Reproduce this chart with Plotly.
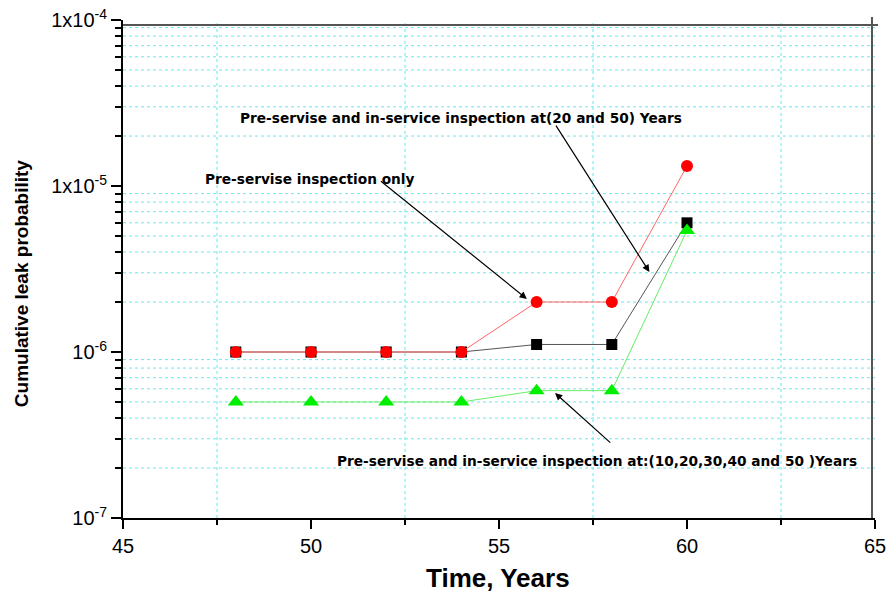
import plotly.graph_objects as go
import numpy as np

# ---- data ----
time_years = [48, 50, 52, 54, 56, 58, 60]
pre_service_only = [1.0e-6, 1.0e-6, 1.0e-6, 1.0e-6, 2.0e-6, 2.0e-6, 1.32e-5]
inspect_20_50 = [1.0e-6, 1.0e-6, 1.0e-6, 1.0e-6, 1.11e-6, 1.11e-6, 6.0e-6]
inspect_10_50 = [5.0e-7, 5.0e-7, 5.0e-7, 5.0e-7, 5.85e-7, 5.85e-7, 5.4e-6]

x_ticks = [45, 50, 55, 60, 65]
x_minor = [47.5, 52.5, 57.5, 62.5]
y_ticks = [1e-7, 1e-6, 1e-5, 1e-4]
y_ticktext = ["10<sup>-7</sup>", "10<sup>-6</sup>", "1x10<sup>-5</sup>", "1x10<sup>-4</sup>"]
y_minor = [k * 10.0 ** e for e in (-7, -6, -5) for k in range(2, 10)]

FONT = "Liberation Sans, Arial, sans-serif"
ANN_FONT = "DejaVu Sans, Liberation Sans, sans-serif"
GRID = "#66e8ee"
X_RANGE = [45, 65]
Y_RANGE = [-7, -4]

fig = go.Figure()
fig.add_trace(go.Scatter(
    x=time_years, y=inspect_20_50, mode="lines+markers",
    line=dict(color="#555555", width=1),
    marker=dict(symbol="square", size=11, color="black"),
    name="20 and 50"))
fig.add_trace(go.Scatter(
    x=time_years, y=inspect_10_50, mode="lines+markers",
    line=dict(color="#66ee66", width=1),
    marker=dict(symbol="triangle-up", size=14, color="#00ee00"),
    name="10..50"))
fig.add_trace(go.Scatter(
    x=time_years, y=pre_service_only, mode="lines+markers",
    line=dict(color="#ff6666", width=1),
    marker=dict(symbol="circle", size=12, color="#ff0000"),
    name="pre-service only"))

ann_font = dict(family=ANN_FONT, size=13.7, color="black")
annotations = [
    dict(x=48.06, y=-4.590, xref="x", yref="y", xanchor="left", yanchor="middle",
         text="<b>Pre-servise and in-service inspection at(20 and 50) Years</b>",
         showarrow=False, font=ann_font),
    dict(x=47.13, y=-4.958, xref="x", yref="y", xanchor="left", yanchor="middle",
         text="<b>Pre-servise inspection only</b>", showarrow=False, font=ann_font),
    dict(x=50.64, y=-6.657, xref="x", yref="y", xanchor="left", yanchor="middle",
         text="<b>Pre-servise and in-service inspection at:(10,20,30,40 and 50 )Years</b>",
         showarrow=False, font=ann_font),
    # arrows
    dict(x=59.0, y=-5.518, ax=56.49, ay=-4.627, xref="x", yref="y", axref="x", ayref="y",
         text="", showarrow=True, arrowhead=2, arrowsize=1.2, arrowwidth=1.2, arrowcolor="black"),
    dict(x=55.74, y=-5.68, ax=51.82, ay=-4.964, xref="x", yref="y", axref="x", ayref="y",
         text="", showarrow=True, arrowhead=2, arrowsize=1.2, arrowwidth=1.2, arrowcolor="black"),
    dict(x=56.49, y=-6.247, ax=58.0, ay=-6.554, xref="x", yref="y", axref="x", ayref="y",
         text="", showarrow=True, arrowhead=2, arrowsize=1.2, arrowwidth=1.2, arrowcolor="black"),
    # axis titles
    dict(x=0.499, y=-0.12, xref="paper", yref="paper", xanchor="center", yanchor="middle",
         text="<b>Time, Years</b>", showarrow=False,
         font=dict(family=FONT, size=26, color="black")),
    dict(x=-0.134, y=0.47, xref="paper", yref="paper", xanchor="center", yanchor="middle",
         text="<b>Cumulative leak probability</b>", textangle=-90, showarrow=False,
         font=dict(family=FONT, size=19, color="black")),
]

grid_line = dict(color=GRID, width=1, dash="dot")
shapes = []
for xv in x_minor:
    shapes.append(dict(type="line", xref="x", yref="paper", x0=xv, x1=xv, y0=0, y1=1,
                       line=grid_line, layer="below"))
for yv in y_minor:
    yp = (np.log10(yv) - Y_RANGE[0]) / (Y_RANGE[1] - Y_RANGE[0])
    shapes.append(dict(type="line", xref="paper", yref="paper", x0=0, x1=1, y0=yp, y1=yp,
                       line=grid_line, layer="below"))
shapes += [
    dict(type="line", xref="paper", yref="paper", x0=0, x1=1.004, y0=0.99, y1=0.99,
         line=dict(color="#555555", width=2)),
    dict(type="line", xref="paper", yref="paper", x0=0.996, x1=0.996, y0=0, y1=1.006,
         line=dict(color="#555555", width=2)),
]

fig.update_layout(
    width=888, height=593,
    margin=dict(l=123, r=13, t=20, b=75),
    paper_bgcolor="white", plot_bgcolor="white",
    showlegend=False,
    font=dict(family=FONT, size=19, color="black"),
    annotations=annotations,
    shapes=shapes,
    xaxis=dict(
        range=X_RANGE, tickmode="array", tickvals=x_ticks,
        showgrid=False, zeroline=False, automargin=False, ticklabeloverflow="allow",
        showline=True, linecolor="black", linewidth=2,
        ticks="outside", ticklen=9, tickwidth=2, tickcolor="black",
        tickfont=dict(family=FONT, size=20),
        minor=dict(dtick=2.5, tick0=45, ticks="outside", ticklen=5,
                   tickwidth=2, tickcolor="black", showgrid=False),
    ),
    yaxis=dict(
        type="log", range=Y_RANGE, tickmode="array", tickvals=y_ticks, ticktext=y_ticktext,
        showgrid=False, zeroline=False, automargin=False, ticklabeloverflow="allow",
        showline=True, linecolor="black", linewidth=2,
        ticks="outside", ticklen=10, tickwidth=2, tickcolor="black",
        tickfont=dict(family=FONT, size=20),
        minor=dict(dtick="D1", ticks="outside", ticklen=6,
                   tickwidth=2, tickcolor="black", showgrid=False),
    ),
)

# remove the default 8px page margin so the figure sits at the window's corner
fig.write_html("out.html", config={"displayModeBar": False},
               post_script="document.body.style.margin='0';")
